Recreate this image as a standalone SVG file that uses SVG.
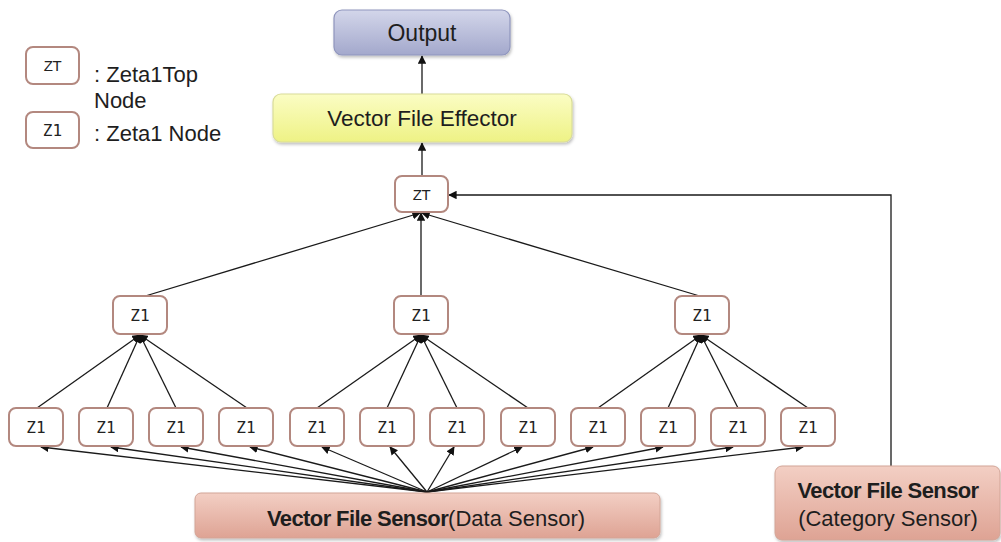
<svg xmlns="http://www.w3.org/2000/svg" width="1001" height="542" viewBox="0 0 1001 542">
  <style>
    .node rect { fill: #ffffff; stroke: #b3887f; stroke-width: 2; }
    .node text { font-family: "DejaVu Sans Mono", "Liberation Mono", monospace; font-size: 16px; fill: #222; text-anchor: middle; }
    .zt text { font-family: "Liberation Sans", Arial, sans-serif; font-size: 15px; fill: #222; text-anchor: middle; letter-spacing: -0.5px; }
    .label { font-family: "Liberation Sans", Arial, sans-serif; fill: #1e1e1e; }
    .big { font-size: 22px; }
    .bold { font-weight: bold; letter-spacing: -0.6px; }
    .edge { stroke: #1a1a1a; stroke-width: 1.3; fill: none; marker-end: url(#arrow); }
  </style>
  <defs>
    <marker id="arrow" viewBox="0 0 10 10" refX="9" refY="5" markerWidth="8.5" markerHeight="8.5" markerUnits="userSpaceOnUse" orient="auto">
      <path d="M0,0 L10,5 L0,10 z" fill="#111"/>
    </marker>
    <linearGradient id="gOut" x1="0" y1="0" x2="0" y2="1">
      <stop offset="0" stop-color="#d3d6ea"/>
      <stop offset="1" stop-color="#a3a8cc"/>
    </linearGradient>
    <linearGradient id="gEff" x1="0" y1="0" x2="0" y2="1">
      <stop offset="0" stop-color="#fbfdc4"/>
      <stop offset="1" stop-color="#eef285"/>
    </linearGradient>
    <linearGradient id="gSen" x1="0" y1="0" x2="0" y2="1">
      <stop offset="0" stop-color="#f3cfc4"/>
      <stop offset="1" stop-color="#dea394"/>
    </linearGradient>
    <filter id="shadow" x="-5%" y="-10%" width="110%" height="130%">
      <feDropShadow dx="1" dy="2" stdDeviation="1.5" flood-color="#000" flood-opacity="0.25"/>
    </filter>
  </defs>

  <!-- legend -->
  <g id="legend">
    <g class="zt node">
      <rect x="26" y="47" width="53" height="37" rx="7"/>
      <text x="52.5" y="71">ZT</text>
    </g>
    <text class="label big" x="94" y="82">: Zeta1Top</text>
    <text class="label big" x="94" y="108">Node</text>
    <g class="node">
      <rect x="26" y="112" width="53" height="36" rx="7"/>
      <text x="52.5" y="136">Z1</text>
    </g>
    <text class="label big" x="94" y="141">: Zeta1 Node</text>
  </g>

  <!-- connectors -->
  <g id="connectors">
    <line class="edge" x1="422" y1="94" x2="422" y2="56"/>
    <line class="edge" x1="422" y1="176" x2="422" y2="143"/>
    <path class="edge" d="M891,466 V195 H449"/>
    <!-- mid layer to top node -->
    <line class="edge" x1="142" y1="297" x2="420" y2="213"/>
    <line class="edge" x1="421" y1="297" x2="421" y2="213"/>
    <line class="edge" x1="703" y1="297" x2="422" y2="213"/>
    <!-- bottom layer to mid layer -->
    <line class="edge" x1="37" y1="408" x2="140" y2="335"/>
    <line class="edge" x1="107" y1="408" x2="140" y2="335"/>
    <line class="edge" x1="176" y1="408" x2="140" y2="335"/>
    <line class="edge" x1="247" y1="408" x2="140" y2="335"/>
    <line class="edge" x1="317" y1="408" x2="421" y2="335"/>
    <line class="edge" x1="387" y1="408" x2="421" y2="335"/>
    <line class="edge" x1="457" y1="408" x2="421" y2="335"/>
    <line class="edge" x1="528" y1="408" x2="421" y2="335"/>
    <line class="edge" x1="598" y1="408" x2="701" y2="335"/>
    <line class="edge" x1="668" y1="408" x2="701" y2="335"/>
    <line class="edge" x1="738" y1="408" x2="701" y2="335"/>
    <line class="edge" x1="808" y1="408" x2="701" y2="335"/>
    <!-- data sensor to bottom layer -->
    <line class="edge" x1="427" y1="492" x2="41" y2="447"/>
    <line class="edge" x1="427" y1="492" x2="111" y2="447"/>
    <line class="edge" x1="427" y1="492" x2="181" y2="447"/>
    <line class="edge" x1="427" y1="492" x2="250" y2="447"/>
    <line class="edge" x1="427" y1="492" x2="322" y2="447"/>
    <line class="edge" x1="427" y1="492" x2="390" y2="447"/>
    <line class="edge" x1="427" y1="492" x2="454" y2="447"/>
    <line class="edge" x1="427" y1="492" x2="522" y2="447"/>
    <line class="edge" x1="427" y1="492" x2="593" y2="447"/>
    <line class="edge" x1="427" y1="492" x2="663" y2="447"/>
    <line class="edge" x1="427" y1="492" x2="733" y2="447"/>
    <line class="edge" x1="427" y1="492" x2="803" y2="447"/>
  </g>

  <!-- output -->
  <g id="output">
    <rect x="334" y="10" width="176" height="45" rx="8" fill="url(#gOut)" stroke="#8f95bd" stroke-width="1.2" filter="url(#shadow)"/>
    <text class="label" x="422" y="41" font-size="23" text-anchor="middle" fill="#2a2a3a">Output</text>
  </g>

  <!-- effector -->
  <g id="effector">
    <rect x="273" y="94" width="299" height="48" rx="8" fill="url(#gEff)" stroke="#d9dc9a" stroke-width="1.2" filter="url(#shadow)"/>
    <text class="label" x="422" y="126" font-size="22.5" text-anchor="middle">Vector File Effector</text>
  </g>

  <!-- top node -->
  <g id="zt" class="zt node">
    <rect x="395" y="176" width="53" height="36" rx="7"/>
    <text x="421.5" y="200">ZT</text>
  </g>

  <!-- mid layer -->
  <g id="z1-m1" class="node"><rect x="113" y="296" width="54" height="38" rx="7"/><text x="140" y="321">Z1</text></g>
  <g id="z1-m2" class="node"><rect x="394" y="296" width="54" height="38" rx="7"/><text x="421" y="321">Z1</text></g>
  <g id="z1-m3" class="node"><rect x="675" y="296" width="54" height="38" rx="7"/><text x="702" y="321">Z1</text></g>

  <!-- bottom layer -->
  <g id="z1-b1" class="node"><rect x="9" y="408" width="54" height="38" rx="7"/><text x="36" y="433">Z1</text></g>
  <g id="z1-b2" class="node"><rect x="79" y="408" width="54" height="38" rx="7"/><text x="106" y="433">Z1</text></g>
  <g id="z1-b3" class="node"><rect x="149" y="408" width="54" height="38" rx="7"/><text x="176" y="433">Z1</text></g>
  <g id="z1-b4" class="node"><rect x="219" y="408" width="54" height="38" rx="7"/><text x="246" y="433">Z1</text></g>
  <g id="z1-b5" class="node"><rect x="290" y="408" width="54" height="38" rx="7"/><text x="317" y="433">Z1</text></g>
  <g id="z1-b6" class="node"><rect x="360" y="408" width="54" height="38" rx="7"/><text x="387" y="433">Z1</text></g>
  <g id="z1-b7" class="node"><rect x="430" y="408" width="54" height="38" rx="7"/><text x="457" y="433">Z1</text></g>
  <g id="z1-b8" class="node"><rect x="501" y="408" width="54" height="38" rx="7"/><text x="528" y="433">Z1</text></g>
  <g id="z1-b9" class="node"><rect x="571" y="408" width="54" height="38" rx="7"/><text x="598" y="433">Z1</text></g>
  <g id="z1-b10" class="node"><rect x="641" y="408" width="54" height="38" rx="7"/><text x="668" y="433">Z1</text></g>
  <g id="z1-b11" class="node"><rect x="711" y="408" width="54" height="38" rx="7"/><text x="738" y="433">Z1</text></g>
  <g id="z1-b12" class="node"><rect x="781" y="408" width="54" height="38" rx="7"/><text x="808" y="433">Z1</text></g>

  <!-- data sensor -->
  <g id="data-sensor">
    <rect x="195" y="493" width="465" height="45" rx="6" fill="url(#gSen)" stroke="#d2a597" stroke-width="1" filter="url(#shadow)"/>
    <text class="label big" x="426" y="526" text-anchor="middle"><tspan class="bold">Vector File Sensor</tspan><tspan>(Data Sensor)</tspan></text>
  </g>

  <!-- category sensor -->
  <g id="category-sensor">
    <rect x="775" y="466" width="225" height="74" rx="7" fill="url(#gSen)" stroke="#d2a597" stroke-width="1" filter="url(#shadow)"/>
    <text class="label big bold" x="888" y="498" text-anchor="middle">Vector File Sensor</text>
    <text class="label big" x="888" y="526" text-anchor="middle">(Category Sensor)</text>
  </g>
</svg>
